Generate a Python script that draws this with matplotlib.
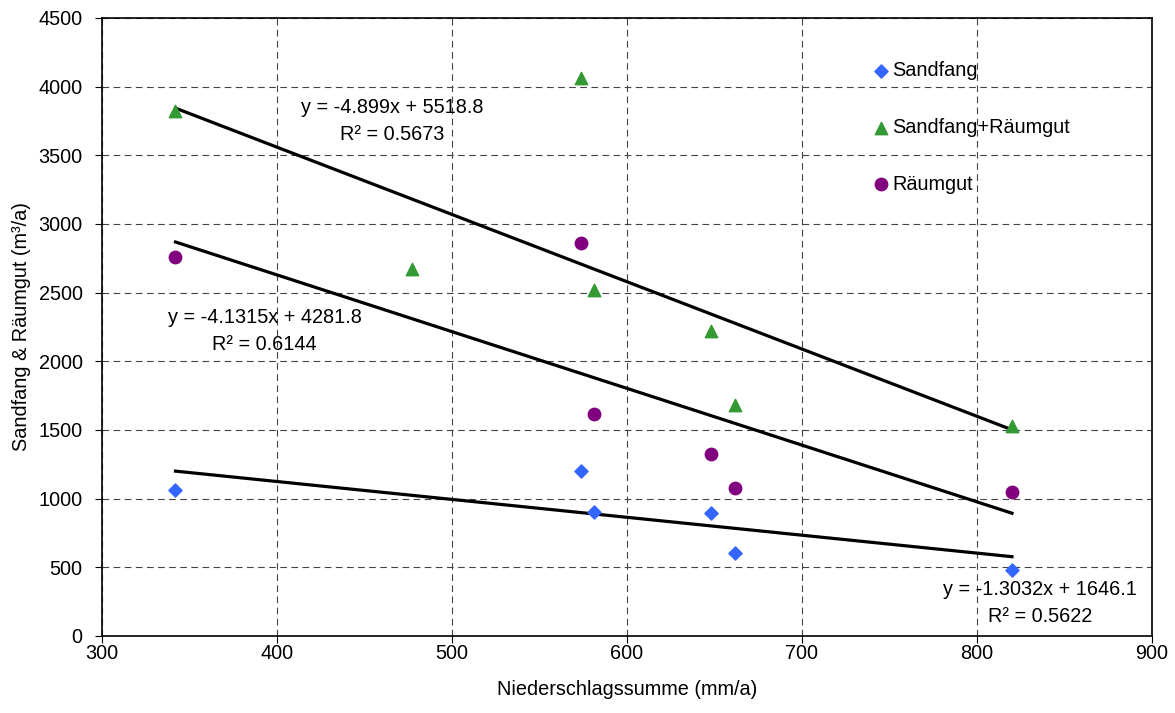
import numpy as np
import matplotlib
matplotlib.use('Agg')
import matplotlib.pyplot as plt

plt.rcParams['font.family'] = ['Liberation Sans', 'DejaVu Sans']

# Niederschlagssumme (mm/a)
x_sand = [342, 574, 581, 648, 662, 820]
y_sand = [1063, 1202, 903, 896, 604, 481]

x_summe = [342, 477, 574, 581, 648, 662, 820]
y_summe = [3820, 2670, 4060, 2520, 2220, 1682, 1531]

x_raeum = [342, 574, 581, 648, 662, 820]
y_raeum = [2760, 2860, 1615, 1325, 1080, 1050]

# Trendlinien (Steigung, Achsenabschnitt, R2) wie im Diagramm angegeben
fit_sand = (-1.3032, 1646.1, 0.5622)
fit_summe = (-4.899, 5518.8, 0.5673)
fit_raeum = (-4.1315, 4281.8, 0.6144)

fs = 14.3

fig = plt.figure(figsize=(11.75, 7.13), dpi=100)
ax = fig.add_axes([0.0868, 0.108, 0.8936, 0.8668])

ax.scatter(x_sand, y_sand, marker='D', s=45, color='#3366FF', label='Sandfang', zorder=3)
ax.scatter(x_summe, y_summe, marker='^', s=80, color='#339933', label='Sandfang+Räumgut', zorder=3)
ax.scatter(x_raeum, y_raeum, marker='o', s=80, color='#800080', label='Räumgut', zorder=3)

for xs, fit in [(x_sand, fit_sand), (x_summe, fit_summe), (x_raeum, fit_raeum)]:
    xx = np.array([min(xs), max(xs)])
    ax.plot(xx, fit[0] * xx + fit[1], color='black', lw=2.3, zorder=2)

def eq_text(fit):
    return 'y = %gx + %.1f\nR² = %.4f' % (fit[0], fit[1], fit[2])

ax.text(466, 3751, eq_text(fit_summe), ha='center', va='center', fontsize=fs, linespacing=1.5)
ax.text(393, 2221, eq_text(fit_raeum), ha='center', va='center', fontsize=fs, linespacing=1.5)
ax.text(836, 240, eq_text(fit_sand), ha='center', va='center', fontsize=fs, linespacing=1.5)

ax.set_xlim(300, 900)
ax.set_ylim(0, 4500)
ax.set_xticks(np.arange(300, 901, 100))
ax.set_yticks(np.arange(0, 4501, 500))
ax.grid(True, color='#444444', linestyle=(0, (6, 4)), linewidth=0.8)
ax.tick_params(labelsize=fs, direction='out', length=5)
ax.tick_params(axis='x', pad=1)
ax.tick_params(axis='y', pad=9)
for s in ax.spines.values():
    s.set_linewidth(1.2)

ax.set_xlabel('Niederschlagssumme (mm/a)', fontsize=fs, labelpad=12)
ax.set_ylabel('Sandfang & Räumgut (m³/a)', fontsize=fs, labelpad=5)

ax.legend(loc='upper left', bbox_to_anchor=(0.732, 0.93), frameon=False, fontsize=fs,
          labelspacing=1.9, handletextpad=0.1, handlelength=1.0, borderaxespad=0,
          borderpad=0)

fig.savefig('out.png', dpi=100)
